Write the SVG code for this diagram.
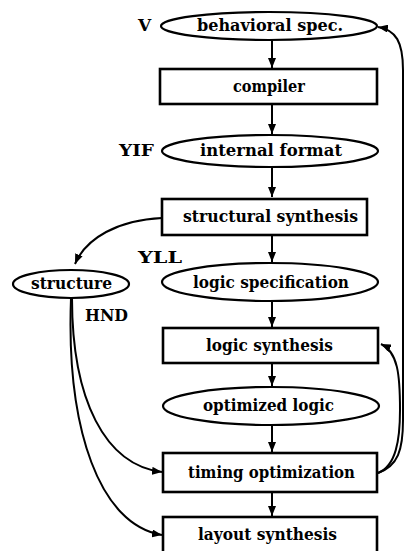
<svg xmlns="http://www.w3.org/2000/svg" width="407" height="551" viewBox="0 0 407 551">
<style>
  .box { fill: #fff; stroke: #000; stroke-width: 2.6; }
  .ell { fill: #fff; stroke: #000; stroke-width: 2.2; }
  .t { font-family: "DejaVu Serif", "Liberation Serif", serif; font-weight: bold; font-size: 17px; fill: #000; }
  .c { fill: none; stroke: #000; stroke-width: 2; marker-end: url(#ah); }
</style>
<defs>
  <marker id="ah" markerUnits="userSpaceOnUse" markerWidth="10" markerHeight="8" refX="10" refY="4" orient="auto">
    <path d="M0,0 L10,4 L0,8 z" fill="#000"/>
  </marker>
</defs>
<rect width="407" height="551" fill="#fff"/>
<g id="connectors">
  <line class="c" x1="272" y1="40" x2="272" y2="68"/>
  <line class="c" x1="272" y1="104" x2="272" y2="134"/>
  <line class="c" x1="272" y1="167" x2="272" y2="197"/>
  <line class="c" x1="272" y1="235" x2="272" y2="262"/>
  <line class="c" x1="272" y1="301" x2="272" y2="327"/>
  <line class="c" x1="272" y1="363" x2="272" y2="386"/>
  <line class="c" x1="272" y1="425" x2="272" y2="452"/>
  <line class="c" x1="272" y1="492" x2="272" y2="516"/>
  <path class="c" d="M162,218 C118,220 86,238 75,264"/>
  <path class="c" d="M72,298 C72,400 105,465 162,472"/>
  <path class="c" d="M71,298 C66,430 100,525 162,535"/>
  <path class="c" d="M378,473 C396,466 400,440 400,410 C400,375 398,352 381,344"/>
  <path class="c" d="M378,473 C398,466 403,450 403,420 L403,70 C403,42 396,30 378,27"/>
</g>
<g id="behavioral-spec">
  <ellipse class="ell" cx="269" cy="26" rx="108" ry="14"/>
  <text class="t" x="197" y="31" textLength="146" lengthAdjust="spacingAndGlyphs">behavioral spec.</text>
</g>
<g id="label-V"><text class="t" x="138" y="31">V</text></g>
<g id="compiler">
  <rect class="box" x="160" y="69" width="217" height="35"/>
  <text class="t" x="233" y="92" textLength="72" lengthAdjust="spacingAndGlyphs">compiler</text>
</g>
<g id="internal-format">
  <ellipse class="ell" cx="270" cy="151" rx="108" ry="16"/>
  <text class="t" x="200" y="156" textLength="142" lengthAdjust="spacingAndGlyphs">internal format</text>
</g>
<g id="label-YIF"><text class="t" x="119" y="156" textLength="35" lengthAdjust="spacingAndGlyphs">YIF</text></g>
<g id="structural-synthesis">
  <rect class="box" x="162" y="199" width="205" height="36"/>
  <text class="t" x="183" y="222" textLength="175" lengthAdjust="spacingAndGlyphs">structural synthesis</text>
</g>
<g id="label-YLL"><text class="t" x="138" y="263" textLength="44" lengthAdjust="spacingAndGlyphs">YLL</text></g>
<g id="structure">
  <ellipse class="ell" cx="71" cy="284" rx="58" ry="14"/>
  <text class="t" x="31" y="289" textLength="81" lengthAdjust="spacingAndGlyphs">structure</text>
</g>
<g id="label-HND"><text class="t" x="85" y="321" textLength="43" lengthAdjust="spacingAndGlyphs">HND</text></g>
<g id="logic-specification">
  <ellipse class="ell" cx="270" cy="282" rx="108" ry="19"/>
  <text class="t" x="193" y="288" textLength="156" lengthAdjust="spacingAndGlyphs">logic specification</text>
</g>
<g id="logic-synthesis">
  <rect class="box" x="163" y="328" width="215" height="35"/>
  <text class="t" x="206" y="351" textLength="127" lengthAdjust="spacingAndGlyphs">logic synthesis</text>
</g>
<g id="optimized-logic">
  <ellipse class="ell" cx="271" cy="406" rx="108" ry="19"/>
  <text class="t" x="203" y="411" textLength="131" lengthAdjust="spacingAndGlyphs">optimized logic</text>
</g>
<g id="timing-optimization">
  <rect class="box" x="163" y="453" width="214" height="39"/>
  <text class="t" x="188" y="478" textLength="167" lengthAdjust="spacingAndGlyphs">timing optimization</text>
</g>
<g id="layout-synthesis">
  <rect class="box" x="163" y="517" width="214" height="42"/>
  <text class="t" x="198" y="540" textLength="139" lengthAdjust="spacingAndGlyphs">layout synthesis</text>
</g>
</svg>
